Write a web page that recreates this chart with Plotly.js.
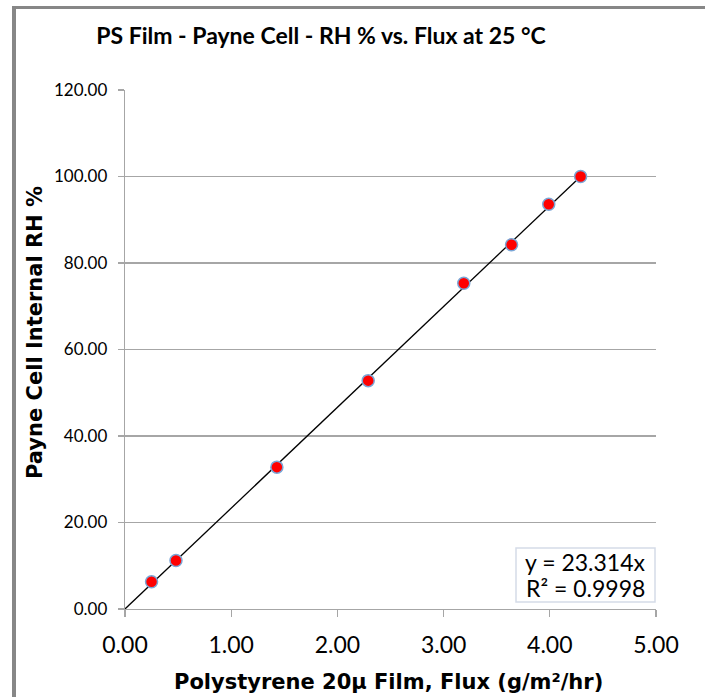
<!DOCTYPE html>
<html>
<head>
<meta charset="utf-8">
<script src="https://cdn.plot.ly/plotly-3.0.1.min.js"></script>
<style>html,body{margin:0;padding:0;background:#fff;}#chart{width:705px;height:697px;}</style>
</head>
<body>
<div id="chart"></div>
<script>
// Data
const fluxValues = [0.25, 0.48, 1.43, 2.29, 3.19, 3.64, 3.99, 4.29];
const rhValues = [6.3, 11.2, 32.8, 52.8, 75.3, 84.2, 93.6, 100.0];
const trendSlope = 23.314;
const trendR2 = 0.9998;
const trendXRange = [0, 4.30];
const yTickValues = [0, 20, 40, 60, 80, 100, 120];
const xTickValues = [0, 1, 2, 3, 4, 5];

const chartTitle = 'PS Film - Payne Cell - RH % vs. Flux at 25 °C';
const xTitle = 'Polystyrene 20μ Film, Flux (g/m²/hr)';
const yTitle = 'Payne Cell Internal RH %';
const eqLine1 = 'y = ' + trendSlope.toFixed(3) + 'x';
const eqLine2 = 'R² = ' + trendR2.toFixed(4);

const L = 125, R = 49, T = 90, B = 88;
const W = 705, H = 697;
const pw = W - L - R, ph = H - T - B;
const px = v => (v - L) / pw;
const py = v => (H - B - v) / ph;

const trendY = trendXRange.map(x => trendSlope * x);

const bodyFont = 'Lato, "Open Sans", sans-serif';
const heavyFont = '"DejaVu Sans", "Liberation Sans", Arial, sans-serif';

const traces = [
  {
    x: trendXRange, y: trendY, type: 'scatter', mode: 'lines',
    line: {color: '#000000', width: 1.3}, hoverinfo: 'skip', showlegend: false
  },
  {
    x: fluxValues, y: rhValues, type: 'scatter', mode: 'markers',
    marker: {color: '#ff0000', size: 12, line: {color: '#7aa6d6', width: 1.5}},
    showlegend: false
  }
];

const layout = {
  width: W, height: H,
  margin: {l: L, r: R, t: T, b: B},
  paper_bgcolor: '#ffffff', plot_bgcolor: '#ffffff',
  showlegend: false,
  title: {
    text: '<b>' + chartTitle + '</b>',
    font: {family: bodyFont, size: 23, color: '#000000'},
    xref: 'container', yref: 'container',
    x: 321 / W, xanchor: 'center', y: 1 - 36 / H, yanchor: 'middle'
  },
  xaxis: {
    range: [0, 5], tickvals: xTickValues, tickformat: '.2f',
    showgrid: false, zeroline: false,
    showline: true, linecolor: '#a6a6a6', linewidth: 1.3,
    ticks: 'outside', ticklen: 7, tickcolor: '#a6a6a6', tickwidth: 1.3,
    ticklabelstandoff: 8,
    tickfont: {family: bodyFont, size: 23, color: '#000000'},
    fixedrange: true
  },
  yaxis: {
    range: [0, 120], tickvals: yTickValues, tickformat: '.2f',
    showgrid: true, gridcolor: '#a6a6a6', gridwidth: 1.3, zeroline: false,
    showline: true, linecolor: '#a6a6a6', linewidth: 1.3,
    ticks: 'outside', ticklen: 6, tickcolor: '#a6a6a6', tickwidth: 1.3,
    ticklabelstandoff: 7,
    tickfont: {family: bodyFont, size: 17, color: '#000000'},
    fixedrange: true
  },
  annotations: [
    {
      text: eqLine1, xref: 'paper', yref: 'paper', x: px(585), y: py(562),
      xanchor: 'center', yanchor: 'middle', showarrow: false,
      font: {family: bodyFont, size: 23, color: '#000000'}
    },
    {
      text: eqLine2, xref: 'paper', yref: 'paper', x: px(585), y: py(588),
      xanchor: 'center', yanchor: 'middle', showarrow: false,
      font: {family: bodyFont, size: 23, color: '#000000'}
    },
    {
      text: '<b>' + xTitle + '</b>',
      xref: 'paper', yref: 'paper', x: px(388), y: py(682),
      xanchor: 'center', yanchor: 'middle', showarrow: false,
      font: {family: heavyFont, size: 21, color: '#000000'}
    },
    {
      text: '<b>' + yTitle + '</b>',
      xref: 'paper', yref: 'paper', x: px(35), y: py(333),
      xanchor: 'center', yanchor: 'middle', showarrow: false, textangle: -90,
      font: {family: heavyFont, size: 21, color: '#000000'}
    }
  ],
  shapes: [
    {
      type: 'rect', xref: 'paper', yref: 'paper',
      x0: px(516), x1: px(655), y0: py(602), y1: py(548),
      line: {color: '#d5dbe8', width: 1.5}, fillcolor: '#ffffff', layer: 'above'
    },
    {
      type: 'line', xref: 'paper', yref: 'paper',
      x0: px(14), x1: px(14), y0: py(6), y1: py(720),
      line: {color: '#878787', width: 4}
    },
    {
      type: 'line', xref: 'paper', yref: 'paper',
      x0: px(12), x1: px(720), y0: py(7.5), y1: py(7.5),
      line: {color: '#878787', width: 3}
    }
  ]
};

Plotly.newPlot('chart', traces, layout, {displayModeBar: false, staticPlot: true});
</script>
</body>
</html>
